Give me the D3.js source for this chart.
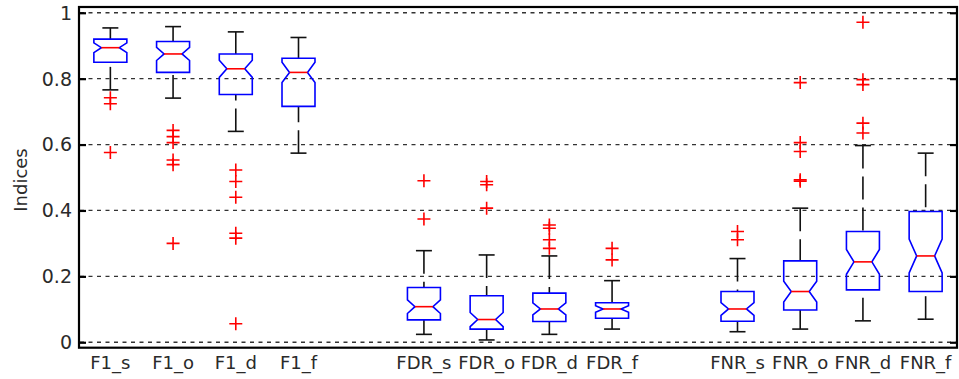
<!DOCTYPE html>
<html>
<head>
<meta charset="utf-8">
<script src="https://cdn.jsdelivr.net/npm/d3@7"></script>
<style>
  body { margin: 0; background: #fff; }
  .chart text { font-family: "DejaVu Sans", sans-serif; font-size: 18px; fill: #2a2a2a; }
  .chart text.ytick { font-size: 19px; }
</style>
</head>
<body>
<div class="chart"></div>
<script>
// categories and their slot on the x axis (gaps at 5 and 10)
const categories = ["F1_s", "F1_o", "F1_d", "F1_f", "FDR_s", "FDR_o", "FDR_d", "FDR_f", "FNR_s", "FNR_o", "FNR_d", "FNR_f"];
const slots = [1, 2, 3, 4, 6, 7, 8, 9, 11, 12, 13, 14];

// box statistics
const lowerWhisker = [0.766, 0.741, 0.640, 0.574, 0.024, 0.007, 0.024, 0.040, 0.032, 0.040, 0.065, 0.070];
const q1           = [0.850, 0.819, 0.752, 0.716, 0.068, 0.040, 0.063, 0.073, 0.064, 0.098, 0.159, 0.154];
const median       = [0.894, 0.875, 0.830, 0.819, 0.108, 0.069, 0.101, 0.101, 0.101, 0.154, 0.244, 0.262];
const q3           = [0.920, 0.913, 0.875, 0.862, 0.166, 0.141, 0.149, 0.120, 0.154, 0.247, 0.336, 0.397];
const upperWhisker = [0.954, 0.958, 0.942, 0.925, 0.278, 0.265, 0.262, 0.187, 0.254, 0.407, 0.597, 0.574];
const outliers = [
  [0.742, 0.724, 0.576],
  [0.643, 0.624, 0.606, 0.553, 0.539, 0.300],
  [0.523, 0.488, 0.440, 0.331, 0.316, 0.056],
  [],
  [0.490, 0.374],
  [0.488, 0.478, 0.407],
  [0.356, 0.346, 0.311, 0.285],
  [0.285, 0.250],
  [0.336, 0.311],
  [0.788, 0.606, 0.579, 0.493, 0.489],
  [0.971, 0.797, 0.782, 0.665, 0.635],
  []
];
const sampleSize = 55; // used for the notch width
const yTicks = [0, 0.2, 0.4, 0.6, 0.8, 1];

const W = 959, H = 379;
const plotLeft = 79, plotRight = 957, plotTop = 7, plotBottom = 347.7;

const svg = d3.select(".chart").append("svg")
    .attr("width", W)
    .attr("height", H);

const x = d3.scaleLinear().domain([0.5, 14.5]).range([plotLeft, plotRight]);
const y = d3.scaleLinear().domain([-0.0165, 1.0175]).range([plotBottom, plotTop]);
const unit = x(1) - x(0);
const boxW = 0.526 * unit, capW = 0.255 * unit, inset = 0.12 * unit;

// grid lines
svg.append("g")
    .selectAll("line")
    .data(yTicks)
    .enter().append("line")
    .attr("x1", plotLeft + 1).attr("x2", plotRight - 1)
    .attr("y1", d => y(d)).attr("y2", d => y(d))
    .attr("stroke", "#333")
    .attr("stroke-width", 1.3)
    .attr("stroke-dasharray", "4,4.5");

const data = categories.map((c, i) => ({
  name: c, pos: slots[i], lw: lowerWhisker[i], q1: q1[i], med: median[i],
  q3: q3[i], uw: upperWhisker[i], out: outliers[i]
}));

const boxes = svg.append("g").selectAll("g")
    .data(data)
    .enter().append("g");

// whiskers, dashed, drawn from the cap towards the box
boxes.append("line")
    .attr("x1", d => x(d.pos)).attr("x2", d => x(d.pos))
    .attr("y1", d => y(d.uw)).attr("y2", d => y(d.q3))
    .attr("stroke", "#111").attr("stroke-width", 1.6)
    .attr("stroke-dasharray", "23,8");
boxes.append("line")
    .attr("x1", d => x(d.pos)).attr("x2", d => x(d.pos))
    .attr("y1", d => y(d.lw)).attr("y2", d => y(d.q1))
    .attr("stroke", "#111").attr("stroke-width", 1.6)
    .attr("stroke-dasharray", "23,8");
// caps
boxes.selectAll(".cap")
    .data(d => [d.lw, d.uw].map(v => ({pos: d.pos, v})))
    .enter().append("line")
    .attr("class", "cap")
    .attr("x1", d => x(d.pos) - capW / 2).attr("x2", d => x(d.pos) + capW / 2)
    .attr("y1", d => y(d.v)).attr("y2", d => y(d.v))
    .attr("stroke", "#111").attr("stroke-width", 1.6);

// notched box
function notch(d) {
  const half = 1.57 * (d.q3 - d.q1) / Math.sqrt(sampleSize);
  return [d.med - half, d.med + half];
}
boxes.append("path")
    .attr("d", d => {
      const [lo, hi] = notch(d);
      const l = x(d.pos) - boxW / 2, r = x(d.pos) + boxW / 2;
      const p = d3.path();
      p.moveTo(l, y(d.q3));
      p.lineTo(r, y(d.q3));
      p.lineTo(r, y(hi));
      p.lineTo(r - inset, y(d.med));
      p.lineTo(r, y(lo));
      p.lineTo(r, y(d.q1));
      p.lineTo(l, y(d.q1));
      p.lineTo(l, y(lo));
      p.lineTo(l + inset, y(d.med));
      p.lineTo(l, y(hi));
      p.closePath();
      return p.toString();
    })
    .attr("fill", "none")
    .attr("stroke", "#00f")
    .attr("stroke-width", 1.6);

boxes.append("line")
    .attr("x1", d => x(d.pos) - boxW / 2 + inset).attr("x2", d => x(d.pos) + boxW / 2 - inset)
    .attr("y1", d => y(d.med)).attr("y2", d => y(d.med))
    .attr("stroke", "#f00").attr("stroke-width", 1.6);

// outliers as red plus signs
boxes.selectAll(".out")
    .data(d => d.out.map(v => ({pos: d.pos, v})))
    .enter().append("path")
    .attr("class", "out")
    .attr("transform", d => `translate(${x(d.pos)},${y(d.v)})`)
    .attr("d", "M-6.5,0H6.5M0,-6.5V6.5")
    .attr("stroke", "#f00").attr("stroke-width", 1.6)
    .attr("fill", "none");

// frame
svg.append("rect")
    .attr("x", plotLeft).attr("y", plotTop)
    .attr("width", plotRight - plotLeft).attr("height", plotBottom - plotTop)
    .attr("fill", "none")
    .attr("stroke", "#000")
    .attr("stroke-width", 2.2);

// y axis: ticks inside on both sides
const yAxisL = svg.append("g")
    .attr("transform", `translate(${plotLeft},0)`)
    .call(d3.axisRight(y).tickValues(yTicks).tickSize(7).tickFormat(""));
yAxisL.select(".domain").remove();
yAxisL.selectAll("line").attr("stroke", "#000").attr("stroke-width", 2.2);

const yAxisR = svg.append("g")
    .attr("transform", `translate(${plotRight},0)`)
    .call(d3.axisLeft(y).tickValues(yTicks).tickSize(7).tickFormat(""));
yAxisR.select(".domain").remove();
yAxisR.selectAll("line").attr("stroke", "#000").attr("stroke-width", 2.2);

svg.append("g").selectAll("text")
    .data(yTicks)
    .enter().append("text")
    .attr("class", "ytick")
    .attr("x", plotLeft - 7)
    .attr("y", d => y(d))
    .attr("dy", "0.36em")
    .attr("text-anchor", "end")
    .text(d => d3.format("")(d));

// x tick labels
svg.append("g").selectAll("text")
    .data(data)
    .enter().append("text")
    .attr("x", d => x(d.pos))
    .attr("y", 369)
    .attr("text-anchor", "middle")
    .text(d => d.name);

// y label
svg.append("text")
    .attr("transform", "translate(27,180) rotate(-90)")
    .attr("text-anchor", "middle")
    .text("Indices");
</script>
</body>
</html>
